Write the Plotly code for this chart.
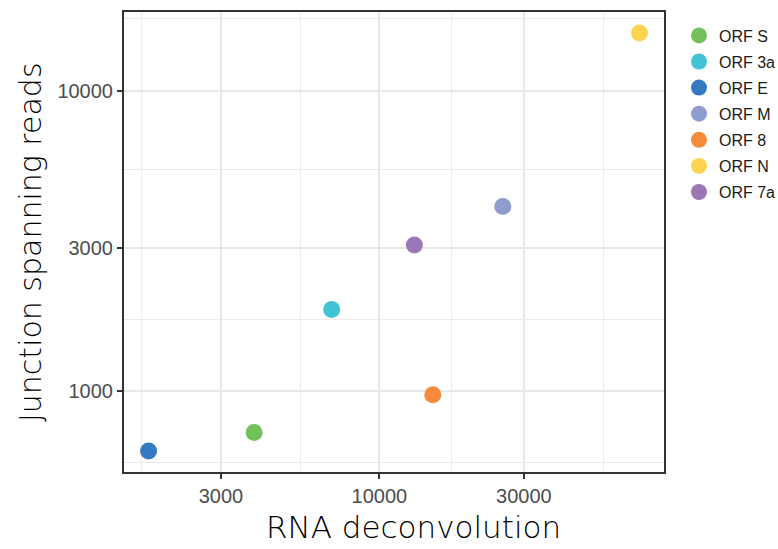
import numpy as np
import plotly.graph_objects as go

# ORF names, in legend order
orfs = ["ORF S", "ORF 3a", "ORF E", "ORF M", "ORF 8", "ORF N", "ORF 7a"]
# RNA deconvolution estimate vs. junction spanning read counts
rna_deconvolution = [3860, 6960, 1730, 25550, 15010, 72200, 13050]
junction_reads = [726, 1865, 630, 4110, 970, 15560, 3060]
orf_colors = ["#72C15A", "#41C3D3", "#3479C1", "#8E9DCE", "#F58A3A", "#FED350", "#9B77B6"]

x_breaks = [3000, 10000, 30000]
y_breaks = [1000, 3000, 10000]

W, H = 778, 549
M_L, M_R, M_T, M_B = 124, 114, 10, 77
PLOT_W = W - M_L - M_R
PLOT_H = H - M_T - M_B


def log_range(values, expand=0.05):
    lo, hi = np.log10(min(values)), np.log10(max(values))
    pad = (hi - lo) * expand
    return [lo - pad, hi + pad]


def minor_breaks(breaks):
    # midpoints between major breaks in log space, extended by one step on each side
    lb = np.log10(breaks)
    step = lb[1] - lb[0]
    ext = np.concatenate([[lb[0] - step], lb, [lb[-1] + step]])
    mids = (ext[:-1] + ext[1:]) / 2
    return [float(10 ** m) for m in mids]


fig = go.Figure()
for name, xv, yv, col in zip(orfs, rna_deconvolution, junction_reads, orf_colors):
    fig.add_trace(go.Scatter(
        x=[xv], y=[yv], mode="markers", name=name, legendgroup=name,
        marker=dict(size=17, color=col, line=dict(width=0)),
    ))

axis_common = dict(
    type="log",
    showline=True, mirror=True, linecolor="#333333", linewidth=2,
    ticks="outside", ticklen=5, tickwidth=1.5, tickcolor="#333333",
    showgrid=True, gridcolor="#E8E8E8", gridwidth=2,
    zeroline=False,
    tickfont=dict(family="Liberation Sans", size=20, color="#4D4D4D"),
)

fig.update_xaxes(
    **axis_common,
    range=log_range(rna_deconvolution),
    tickvals=x_breaks, ticktext=[str(v) for v in x_breaks],
    minor=dict(tickvals=minor_breaks(x_breaks), showgrid=True,
               gridcolor="#EBEBEB", gridwidth=1.2, ticks=""),
)
fig.update_yaxes(
    **axis_common,
    range=log_range(junction_reads),
    tickvals=y_breaks, ticktext=[str(v) for v in y_breaks],
    minor=dict(tickvals=minor_breaks(y_breaks), showgrid=True,
               gridcolor="#EBEBEB", gridwidth=1.2, ticks=""),
)

fig.add_annotation(text="RNA deconvolution", xref="paper", yref="paper",
                   x=(413 - M_L) / PLOT_W, y=(H - M_B - 527) / PLOT_H,
                   xanchor="center", yanchor="middle", showarrow=False,
                   font=dict(family="DejaVu Sans", size=31, color="#000000", weight=200))
fig.add_annotation(text="Junction spanning reads", xref="paper", yref="paper",
                   x=(30 - M_L) / PLOT_W, y=0.5, xanchor="center", yanchor="middle",
                   textangle=-90, showarrow=False,
                   font=dict(family="DejaVu Sans", size=30, color="#000000", weight=200))

fig.update_layout(
    width=W, height=H,
    margin=dict(l=M_L, r=M_R, t=M_T, b=M_B),
    paper_bgcolor="white", plot_bgcolor="white",
    showlegend=True,
    legend=dict(
        xref="container", yref="container", x=679 / W, y=1 - 18.5 / H,
        xanchor="left", yanchor="top",
        font=dict(family="Liberation Sans", size=16, color="#1A1A1A"),
        tracegroupgap=2.3, bgcolor="rgba(0,0,0,0)",
    ),
)

fig.write_html("out.html")
